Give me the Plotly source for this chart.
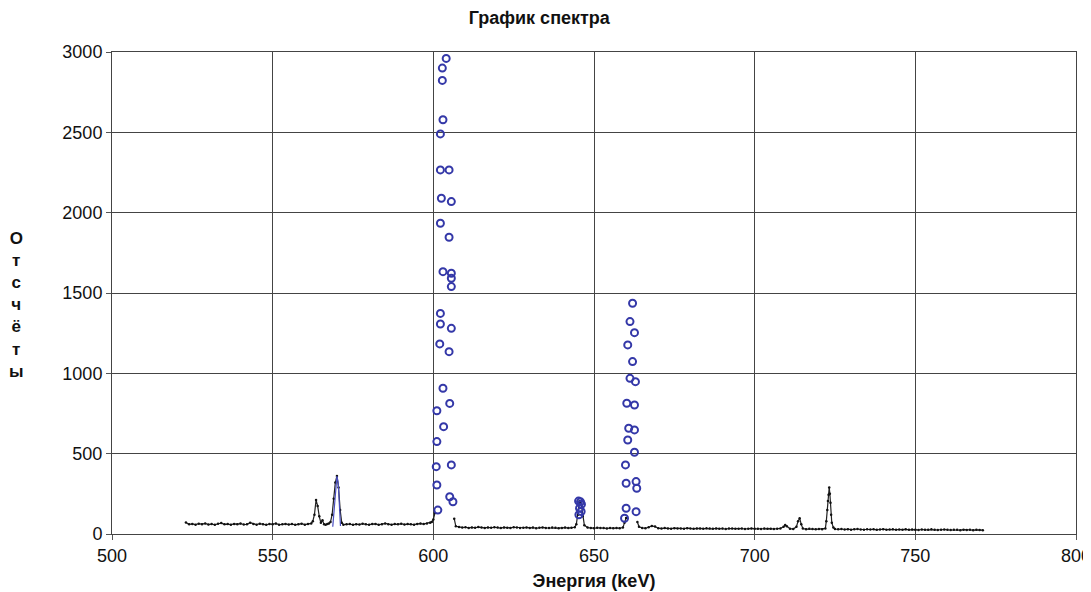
import plotly.graph_objects as go

# Black spectrum trace (energy keV, counts); None marks the part covered by hand-drawn points
energy = [523, 524, 525, 526, 527, 528, 529, 530, 531, 532, 533, 534, 535, 536, 537, 538, 539, 540,
          541, 542, 543, 544, 545, 546, 547, 548, 549, 550, 551, 552, 553, 554, 555, 556, 557, 558,
          559, 560, 561, 562, 562.5, 563, 563.5, 564, 564.5, 565, 565.5, 566, 566.5, 567, 567.5, 568,
          568.5, 569, 569.5, 570, 570.5, 571, 571.5, 572, 573, 574, 575, 576, 577, 578, 579, 580, 581,
          582, 583, 584, 585, 586, 587, 588, 589, 590, 591, 592, 593, 594, 595, 596, 597, 598, 599,
          599.5, 600, 600.5, 601, 606.5, 607, 608, 609, 610, 611, 612, 613, 614, 615, 616, 617, 618,
          619, 620, 621, 622, 623, 624, 625, 626, 627, 628, 629, 630, 631, 632, 633, 634, 635, 636,
          637, 638, 639, 640, 641, 642, 643, 644, 644.5, 645, 645.5, 646, 646.5, 647, 648, 649, 650,
          651, 652, 653, 654, 655, 656, 657, 658, 659, 659.5, 660, 660.5, 663.5, 664, 665, 666, 667,
          668, 669, 670, 671, 672, 673, 674, 675, 676, 677, 678, 679, 680, 681, 682, 683, 684, 685,
          686, 687, 688, 689, 690, 691, 692, 693, 694, 695, 696, 697, 698, 699, 700, 701, 702, 703,
          704, 705, 706, 707, 708, 709, 709.5, 710, 711, 712, 713, 713.5, 714, 714.5, 715, 716, 717,
          718, 719, 720, 721, 722, 722.3, 722.6, 722.8, 723, 723.2, 723.4, 723.6, 723.8, 724, 724.5,
          725, 726, 727, 728, 729, 730, 731, 732, 733, 734, 735, 736, 737, 738, 739, 740, 741, 742,
          743, 744, 745, 746, 747, 748, 749, 750, 751, 752, 753, 754, 755, 756, 757, 758, 759, 760,
          761, 762, 763, 764, 765, 766, 767, 768, 769, 770, 771]
counts = [72, 60, 63, 58, 64, 61, 66, 59, 62, 57, 64, 68, 60, 62, 58, 63, 61, 65,
          59, 60, 70, 62, 58, 64, 60, 57, 62, 61, 65, 58, 60, 63, 59, 62, 57, 60,
          64, 58, 62, 66, 80, 120, 212, 175, 110, 70, 85, 60, 58, 62, 65, 75,
          120, 220, 320, 361, 290, 150, 70, 58, 60, 62, 57, 61, 59, 64, 60, 58, 62,
          63, 57, 60, 66, 61, 58, 62, 60, 64, 59, 62, 61, 58, 63, 65, 62, 66, 70,
          75, 90, 130, None, 95, 48, 44, 40, 42, 38, 41, 39, 43, 40, 38, 41, 39,
          42, 40, 37, 41, 39, 38, 42, 40, 37, 39, 41, 38, 40, 36, 39, 41, 38, 37,
          40, 39, 36, 38, 40, 37, 39, 42, 60, 120, 205, 190, 110, 55, 40, 38, 36,
          39, 37, 38, 35, 37, 36, 38, 36, 40, 70, 100, None, 75, 45, 38, 36, 42,
          50, 46, 36, 34, 37, 35, 33, 36, 34, 35, 33, 36, 34, 32, 35, 34, 33, 36,
          34, 32, 35, 33, 34, 31, 34, 35, 32, 33, 34, 31, 33, 35, 32, 33, 31, 34,
          32, 33, 31, 32, 35, 45, 56, 48, 33, 31, 45, 80, 98, 60, 34, 30, 32,
          31, 29, 31, 30, 35, 80, 150, 205, 245, 290, 250, 195, 120, 70, 40,
          31, 29, 31, 28, 30, 27, 29, 31, 28, 27, 30, 28, 29, 26, 28, 30, 27, 28,
          29, 26, 28, 27, 29, 26, 28, 27, 25, 28, 26, 27, 29, 26, 25, 27, 28, 26,
          25, 27, 26, 24, 27, 25, 26, 24, 26, 25, 24]

# Hand-drawn blue points over the strong peaks
peak_energy = [604.0, 602.8, 602.8, 603.0, 602.2, 602.2, 604.9, 602.5, 605.6, 602.2, 604.9,
               603.0, 605.6, 605.6, 605.6, 602.2, 602.2, 605.6, 602.0, 604.9, 603.0, 605.1,
               601.1, 603.2, 601.1, 600.9, 605.6, 601.1, 605.1, 606.1, 601.4,
               662.0, 661.2, 662.6, 660.5, 662.0, 661.2, 662.9, 660.2, 662.6, 660.8, 662.6,
               660.5, 662.6, 659.8, 660.0, 663.1, 663.3, 660.0, 663.1, 659.5,
               645.2, 645.8, 646.1, 645.5, 646.0, 645.3]
peak_counts = [2960, 2900, 2823, 2578, 2490, 2266, 2266, 2090, 2069, 1934, 1847,
               1633, 1623, 1592, 1540, 1373, 1307, 1280, 1183, 1135, 907, 813,
               767, 668, 575, 419, 430, 305, 232, 201, 149,
               1436, 1322, 1253, 1177, 1073, 969, 948, 814, 803, 658, 648,
               585, 509, 430, 316, 326, 285, 160, 139, 98,
               205, 200, 185, 160, 140, 120]

# Blue outline drawn over the 570 keV peak
outline_energy = [568.7, 569.3, 569.7, 570.0, 570.4, 570.8, 571.1]
outline_counts = [45, 200, 320, 361, 320, 180, 50]

x_ticks = [500, 550, 600, 650, 700, 750, 800]
y_ticks = [0, 500, 1000, 1500, 2000, 2500, 3000]

fig = go.Figure()
fig.add_trace(go.Scatter(x=energy, y=counts, mode="lines+markers",
                         line=dict(color="#222222", width=1.2),
                         marker=dict(color="#111111", size=2.5),
                         connectgaps=False, showlegend=False))
fig.add_trace(go.Scatter(x=outline_energy, y=outline_counts, mode="lines",
                         line=dict(color="#4a4fc0", width=1.2), showlegend=False))
fig.add_trace(go.Scatter(x=peak_energy, y=peak_counts, mode="markers",
                         marker=dict(symbol="circle-open", color="#3438a8", size=7,
                                     line=dict(width=2, color="#3438a8")),
                         showlegend=False))

fig.update_layout(
    width=1091, height=592,
    margin=dict(l=104, r=23, t=44, b=66),
    paper_bgcolor="white", plot_bgcolor="white",
    font=dict(family="Liberation Sans, Arial, sans-serif", color="#111111", size=18),
    title=dict(text="<b>График спектра</b>", x=0.487, xref="container", xanchor="center",
               y=0.983, yanchor="middle", font=dict(size=18)),
    xaxis=dict(range=[500, 800], tickvals=x_ticks, ticks="outside", ticklen=5,
               tickcolor="#555555", showgrid=True, gridcolor="#444444", gridwidth=1,
               showline=True, linecolor="#444444", linewidth=1, mirror=True,
               zeroline=False, tickfont=dict(size=18), automargin=False,
               title=dict(text="<b>Энергия (keV)</b>", font=dict(size=18), standoff=9)),
    yaxis=dict(range=[0, 3000], tickvals=y_ticks, ticks="outside", ticklen=5,
               tickcolor="#555555", showgrid=True, gridcolor="#444444", gridwidth=1,
               showline=True, linecolor="#444444", linewidth=1, mirror=True,
               zeroline=False, tickfont=dict(size=18), automargin=False),
    annotations=[dict(text="<b>О<br>т<br>с<br>ч<br>ё<br>т<br>ы</b>", xref="paper", yref="paper",
                      x=-0.099, y=0.475, xanchor="center", yanchor="middle", showarrow=False,
                      font=dict(size=17), align="center")],
)

fig.write_html("out.html")
